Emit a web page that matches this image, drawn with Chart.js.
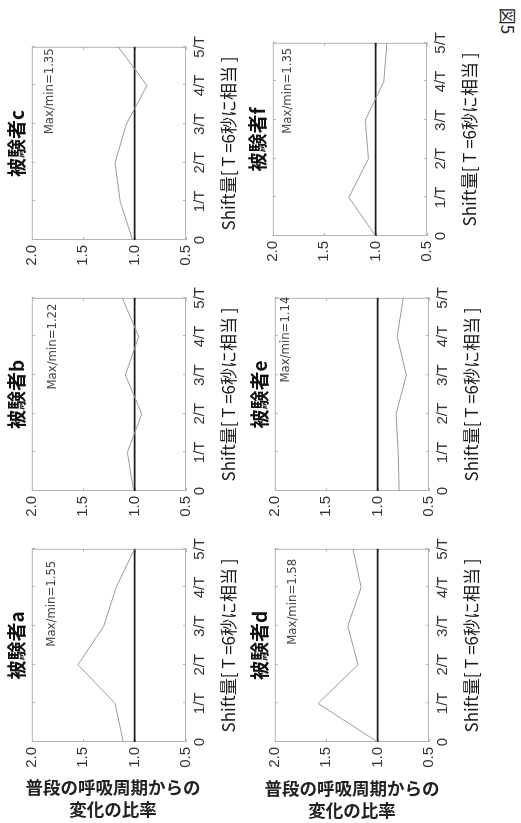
<!DOCTYPE html>
<html>
<head>
<meta charset="utf-8">
<script src="https://cdn.jsdelivr.net/npm/chart.js@4.4.1/dist/chart.umd.min.js"></script>
<style>
    html, body { margin: 0; padding: 0; background: #fff; }
    body { width: 521px; height: 823px; position: relative; overflow: hidden; }
    /* the figure is laid out 823x521 and turned a quarter turn, as in the scan */
    #fig { position: absolute; left: 0; top: 823px; width: 823px; height: 521px;
           transform-origin: 0 0; transform: rotate(-90deg); }
    .panel { position: absolute; width: 259px; height: 246px; }
    .ylab { position: absolute; width: 200px; text-align: center; color: #222;
            font: bold 17.5px "Noto Sans CJK JP", sans-serif; line-height: 22px; }
    #figno { position: absolute; left: 491px; top: 11px; width: 34px; height: 20px;
             transform: rotate(90deg); color: #222; text-align: center;
             font: 17px "Noto Sans CJK JP", sans-serif; line-height: 20px; }
</style>
</head>
<body>
<div id="fig">
    <div class="panel" style="left:31px;top:0px"><canvas id="chart_a"></canvas></div>
    <div class="panel" style="left:282px;top:0px"><canvas id="chart_b"></canvas></div>
    <div class="panel" style="left:533px;top:0px"><canvas id="chart_c"></canvas></div>
    <div class="panel" style="left:31px;top:243px"><canvas id="chart_d"></canvas></div>
    <div class="panel" style="left:282px;top:243px"><canvas id="chart_e"></canvas></div>
    <div class="panel" style="left:537px;top:241px"><canvas id="chart_f"></canvas></div>
</div>
<div class="ylab" style="left:13px;top:776px">普段の呼吸周期からの<br>変化の比率</div>
<div class="ylab" style="left:252px;top:777px">普段の呼吸周期からの<br>変化の比率</div>
<div id="figno">図5</div>

<script>
const shiftLabels = ['0', '1/T', '2/T', '3/T', '4/T', '5/T'];
const ratioMin = 0.5;
const ratioMax = 2.0;
const ratioStep = 0.5;

const subjectA = [1.11, 1.19, 1.55, 1.30, 1.18, 1.00];
const subjectB = [1.01, 1.07, 0.93, 1.09, 0.96, 1.12];
const subjectC = [1.02, 1.14, 1.19, 1.08, 0.88, 1.16];
const subjectD = [1.00, 1.58, 1.19, 1.29, 1.16, 1.24];
const subjectE = [0.79, 0.80, 0.82, 0.72, 0.81, 0.75];
const subjectF = [1.00, 1.26, 1.07, 1.10, 0.92, 0.89];
const baseline = [1, 1, 1, 1, 1, 1];

const subjectNames = ['被験者a', '被験者b', '被験者c', '被験者d', '被験者e', '被験者f'];
const maxMinNotes = ['Max/min=1.55', 'Max/min=1.22', 'Max/min=1.35',
                     'Max/min=1.58', 'Max/min=1.14', 'Max/min=1.35'];

const axisTitle = 'Shift量[ T =6秒に相当 ]';

// box round the plot, inward ticks on all four sides, and the Max/min note
const frameTicks = {
    id: 'frameTicks',
    beforeDatasetsDraw(chart, args, opts) {
        const { ctx, chartArea: a, scales: { x, y } } = chart;
        ctx.save();
        ctx.strokeStyle = '#b4b4b4';
        ctx.lineWidth = 1;
        ctx.strokeRect(a.left + 0.5, a.top + 0.5, a.width - 1, a.height - 1);
        ctx.beginPath();
        x.ticks.forEach((t, i) => {
            const px = Math.round(x.getPixelForTick(i)) + 0.5;
            ctx.moveTo(px, a.bottom); ctx.lineTo(px, a.bottom - 3);
            ctx.moveTo(px, a.top); ctx.lineTo(px, a.top + 3);
        });
        y.ticks.forEach((t, i) => {
            const py = Math.round(y.getPixelForTick(i)) + 0.5;
            ctx.moveTo(a.left, py); ctx.lineTo(a.left + 3, py);
            ctx.moveTo(a.right, py); ctx.lineTo(a.right - 3, py);
        });
        ctx.stroke();

        ctx.font = '13px "Liberation Sans Narrow", "DejaVu Sans Condensed", sans-serif';
        ctx.fillStyle = '#444';
        ctx.textAlign = 'center';
        ctx.textBaseline = 'middle';
        ctx.fillText(opts.text, x.getPixelForValue(opts.at[0]), y.getPixelForValue(opts.at[1]));
        ctx.restore();
    }
};

function makePanel(id, name, values, note, noteAt) {
    const ctx = document.getElementById(id).getContext('2d');
    return new Chart(ctx, {
        type: 'line',
        data: {
            labels: shiftLabels,
            datasets: [{
                data: values,
                borderColor: '#9c9c9c',
                borderWidth: 1,
                pointRadius: 0,
                tension: 0
            }, {
                data: baseline,
                borderColor: '#1c1c1c',
                borderWidth: 1.8,
                pointRadius: 0
            }]
        },
        options: {
            responsive: true,
            maintainAspectRatio: false,
            animation: false,
            layout: { padding: { left: 0, right: 15, top: 0, bottom: 0 } },
            plugins: {
                legend: { display: false },
                tooltip: { enabled: false },
                title: {
                    display: true,
                    text: name,
                    fullSize: false,
                    color: '#111',
                    font: { family: '"Noto Sans CJK JP", sans-serif', size: 19, weight: 'bold' },
                    padding: { top: 5, bottom: 4 }
                },
                frameTicks: { text: note, at: noteAt }
            },
            scales: {
                x: {
                    grid: { display: false, drawTicks: false },
                    border: { display: false },
                    ticks: {
                        color: '#333',
                        padding: 5,
                        maxRotation: 0,
                        autoSkip: false,
                        font: { family: '"Liberation Sans", Arial, sans-serif', size: 15 }
                    },
                    title: {
                        display: true,
                        text: axisTitle,
                        color: '#1a1a1a',
                        font: { family: '"Noto Sans CJK JP", sans-serif', size: 17 },
                        padding: { top: 2, bottom: 7 }
                    },
                    afterFit: (scale) => { scale.height = 60; }
                },
                y: {
                    min: ratioMin,
                    max: ratioMax,
                    grid: { display: false, drawTicks: false },
                    border: { display: false },
                    ticks: {
                        stepSize: ratioStep,
                        color: '#333',
                        padding: 5,
                        font: { family: '"Liberation Sans", Arial, sans-serif', size: 15 },
                        callback: (v) => v.toFixed(1)
                    },
                    afterFit: (scale) => { scale.width = 50; }
                }
            }
        },
        plugins: [frameTicks]
    });
}

document.addEventListener('DOMContentLoaded', () => {
    makePanel('chart_a', subjectNames[0], subjectA, maxMinNotes[0], [3.58, 1.81]);
    makePanel('chart_b', subjectNames[1], subjectB, maxMinNotes[1], [3.74, 1.80]);
    makePanel('chart_c', subjectNames[2], subjectC, maxMinNotes[2], [3.85, 1.83]);
    makePanel('chart_d', subjectNames[3], subjectD, maxMinNotes[3], [3.63, 1.83]);
    makePanel('chart_e', subjectNames[4], subjectE, maxMinNotes[4], [3.92, 1.89]);
    makePanel('chart_f', subjectNames[5], subjectF, maxMinNotes[5], [3.76, 1.86]);
});
</script>
</body>
</html>
